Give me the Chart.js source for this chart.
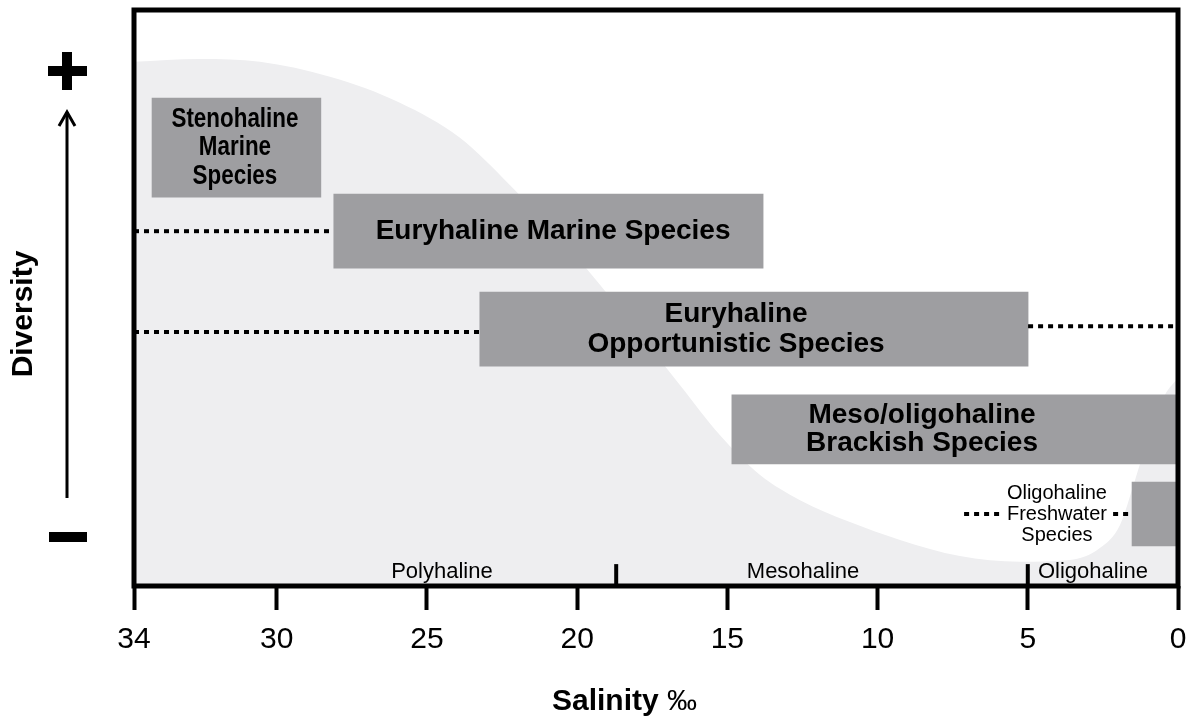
<!DOCTYPE html>
<html>
<head>
<meta charset="utf-8">
<title>Diversity vs salinity</title>
<script src="https://cdn.jsdelivr.net/npm/chart.js@4.4.1/dist/chart.umd.min.js"></script>
<style>
  html, body { margin: 0; padding: 0; background: #fff; }
  #wrap { width: 1192px; height: 718px; }
</style>
</head>
<body>
<div id="wrap"><canvas id="chart"></canvas></div>
<script>
// salinity axis (‰), high on the left
const axisMax = 34.75; // left edge of the frame, labelled "34"
const tickValues = [axisMax, 30, 25, 20, 15, 10, 5, 0];
const tickLabels = ['34', '30', '25', '20', '15', '10', '5', '0'];

// diversity envelope (arbitrary units 0-100)
const curveSalinity = [34.75, 32.56, 30.56, 28.23, 25.9, 23.9, 22.24, 20.57, 19.24, 17.91, 16.58, 15.25, 13.92, 12.58, 10.92, 9.25, 7.26, 5.26, 3.6, 2.6, 1.93, 1.43, 0.93, 0.43, 0];
const curveDiversity = [91.0, 91.5, 91.0, 88.4, 83.9, 77.8, 69.6, 60.4, 52.3, 43.6, 34.9, 26.2, 19.3, 14.9, 11.1, 8.0, 5.2, 4.2, 4.5, 6.6, 10.6, 18.4, 26.7, 33.2, 36.1];

// species groups: salinity range and diversity level
const groupNames = [
  ['Stenohaline', 'Marine', 'Species'],
  ['Euryhaline Marine Species'],
  ['Euryhaline', 'Opportunistic Species'],
  ['Meso/oligohaline', 'Brackish Species'],
  ['Oligohaline', 'Freshwater', 'Species']
];
const groupFrom = [34.15, 28.1, 23.24, 14.85, 1.53];
const groupTo = [28.53, 13.81, 4.99, 0, 0];
const groupLevel = [76.1, 61.6, 44.6, 27.2, 12.5];
const labelSalinity = [31.39, 20.8, 14.71, 8.52, 4.03];

// dotted tolerance extensions
const dotFrom = [34.75, 34.75, 4.99, 7.12, 2.16];
const dotTo = [28.1, 23.24, 0, 5.86, 1.6];
const dotLevel = [61.6, 44.1, 45.1, 12.5, 12.5];

// salinity zones
const zoneNames = ['Polyhaline', 'Mesohaline', 'Oligohaline'];
const zoneCentres = [24.5, 12.48, 2.83];
const zoneBounds = [18.7, 5];

// styles
const FONT = "'Liberation Sans', Arial, Helvetica, sans-serif";
const barColor = '#9e9ea1';
const curveColor = '#eeeef0';
const barHeightsPx = [99, 74, 74, 69, 64];
const labelStyles = [
  { size: 28, weight: 'bold', gap: 28.5, squeeze: 0.8 },
  { size: 28, weight: 'bold', gap: 0, squeeze: 1 },
  { size: 28, weight: 'bold', gap: 30, squeeze: 1 },
  { size: 28, weight: 'bold', gap: 28, squeeze: 1 },
  { size: 20, weight: 'normal', gap: 21, squeeze: 1 }
];

const datasets = [];

datasets.push({
  type: 'line',
  data: curveSalinity.map((s, i) => ({ x: s, y: curveDiversity[i] })),
  fill: 'origin',
  backgroundColor: curveColor,
  borderWidth: 0,
  pointRadius: 0,
  cubicInterpolationMode: 'monotone',
  order: 3
});

groupNames.forEach((_, i) => {
  datasets.push({
    type: 'bar',
    indexAxis: 'y',
    data: [{ x: [groupFrom[i], groupTo[i]], y: groupLevel[i] }],
    backgroundColor: barColor,
    borderWidth: 0,
    barThickness: barHeightsPx[i],
    grouped: false,
    order: 2
  });
});

dotFrom.forEach((f, i) => {
  datasets.push({
    type: 'line',
    data: [{ x: f, y: dotLevel[i] }, { x: dotTo[i], y: dotLevel[i] }],
    borderColor: '#000',
    borderWidth: 4,
    borderDash: [5, 5],
    pointRadius: 0,
    fill: false,
    order: 1
  });
});

zoneBounds.forEach(b => {
  datasets.push({
    type: 'line',
    data: [{ x: b, y: 0 }, { x: b, y: 3.8 }],
    borderColor: '#000',
    borderWidth: 4,
    pointRadius: 0,
    fill: false,
    order: 1
  });
});

const decor = {
  id: 'decor',
  afterDatasetsDraw(chart) {
    const { ctx, chartArea: a } = chart;
    const xs = chart.scales.x, ys = chart.scales.y;
    ctx.save();
    // frame
    ctx.strokeStyle = '#000';
    ctx.lineWidth = 5;
    ctx.strokeRect(a.left, a.top, a.right - a.left, a.bottom - a.top);

    // group labels
    ctx.fillStyle = '#000';
    ctx.textAlign = 'center';
    ctx.textBaseline = 'middle';
    groupNames.forEach((lines, i) => {
      const st = labelStyles[i];
      const cx = xs.getPixelForValue(labelSalinity[i]);
      const cy = ys.getPixelForValue(groupLevel[i]);
      ctx.font = st.weight + ' ' + st.size + 'px ' + FONT;
      lines.forEach((t, k) => {
        const y = cy + (k - (lines.length - 1) / 2) * st.gap;
        ctx.save();
        ctx.translate(cx, y);
        ctx.scale(st.squeeze, 1);
        ctx.fillText(t, 0, 0);
        ctx.restore();
      });
    });

    // zone names
    ctx.font = '22px ' + FONT;
    zoneNames.forEach((z, i) => {
      ctx.fillText(z, xs.getPixelForValue(zoneCentres[i]), ys.getPixelForValue(2.4));
    });
    ctx.restore();
  },
  afterDraw(chart) {
    const { ctx } = chart;
    ctx.save();
    ctx.fillStyle = '#000';
    ctx.strokeStyle = '#000';
    // plus and minus
    ctx.fillRect(48, 66, 39, 10);
    ctx.fillRect(62, 52, 10, 38);
    ctx.fillRect(49, 532, 38, 10);
    // arrow
    ctx.lineWidth = 3;
    ctx.beginPath();
    ctx.moveTo(67, 498);
    ctx.lineTo(67, 112);
    ctx.stroke();
    ctx.beginPath();
    ctx.moveTo(59, 126);
    ctx.lineTo(67, 112);
    ctx.lineTo(75, 126);
    ctx.stroke();
    // y title
    ctx.save();
    ctx.translate(24, 314);
    ctx.rotate(-Math.PI / 2);
    ctx.textAlign = 'center';
    ctx.textBaseline = 'middle';
    ctx.font = 'bold 30px ' + FONT;
    ctx.fillText('Diversity', 0, 0);
    ctx.restore();
    // x title
    ctx.textAlign = 'left';
    ctx.textBaseline = 'middle';
    ctx.font = 'bold 30px ' + FONT;
    const w = ctx.measureText('Salinity ').width;
    ctx.fillText('Salinity ', 552, 702);
    ctx.font = '30px ' + FONT;
    ctx.fillText('‰', 552 + w, 702);
    ctx.restore();
  }
};

new Chart(document.getElementById('chart'), {
  type: 'line',
  data: { datasets },
  options: {
    responsive: true,
    maintainAspectRatio: false,
    animation: false,
    layout: { padding: { left: 134, right: 14, top: 10, bottom: 0 } },
    plugins: { legend: { display: false }, tooltip: { enabled: false } },
    scales: {
      x: {
        type: 'linear',
        reverse: true,
        min: 0,
        max: axisMax,
        offset: false,
        afterBuildTicks: s => { s.ticks = tickValues.map(v => ({ value: v })); },
        afterFit: s => {
          s.height = 132;
          s.paddingLeft = 0;
          s.paddingRight = 0;
        },
        border: { display: false },
        grid: { offset: false, drawOnChartArea: false, drawTicks: true, tickLength: 24, tickWidth: 4, tickColor: '#000' },
        ticks: {
          padding: 12,
          color: '#000',
          autoSkip: false,
          maxRotation: 0,
          font: { family: FONT, size: 30 },
          callback: (v, i) => tickLabels[i]
        }
      },
      y: { type: 'linear', min: 0, max: 100, offset: false, grid: { offset: false }, display: false }
    }
  },
  plugins: [decor]
});
</script>
</body>
</html>
